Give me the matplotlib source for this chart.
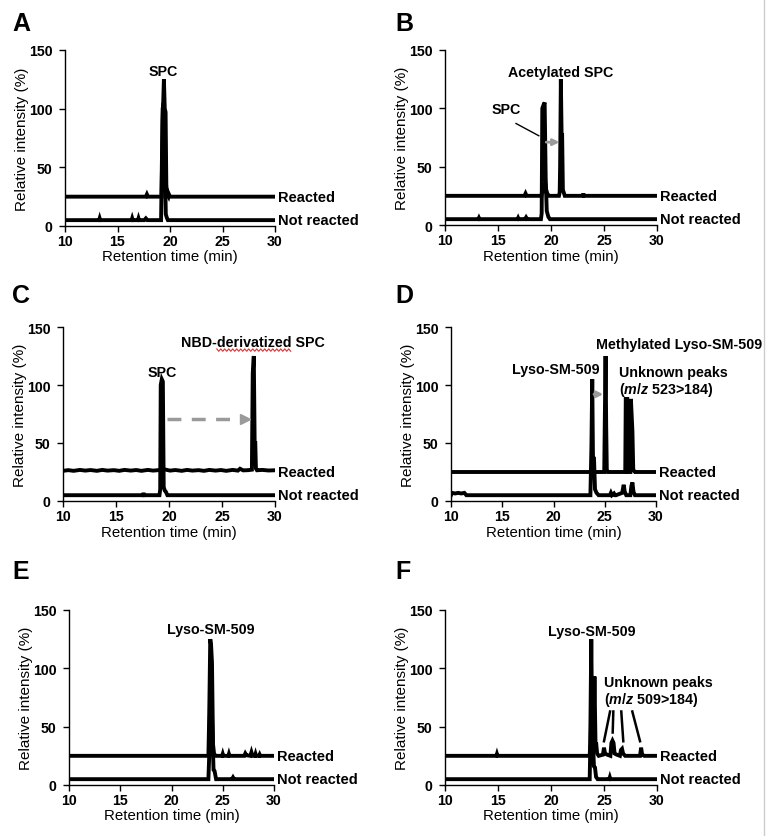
import matplotlib
matplotlib.use("Agg")
import matplotlib.pyplot as plt
from matplotlib.lines import Line2D

plt.rcParams['font.family'] = ['Liberation Sans', 'DejaVu Sans']
plt.rcParams['font.weight'] = 'bold'
plt.rcParams['mathtext.fontset'] = 'custom'
plt.rcParams['mathtext.it'] = 'Liberation Sans:bold:italic'
plt.rcParams['mathtext.rm'] = 'Liberation Sans:bold'

# ---------------- data (retention time [min], relative intensity [%]) ----------------
TRACE_LABELS = ["Reacted", "Not reacted"]
PANEL_LETTERS = ["A", "B", "C", "D", "E", "F"]
X_TICKS = [10, 15, 20, 25, 30]
Y_TICKS = [0, 50, 100, 150]

# Panel A
A_R_T = [10, 17.7, 17.8, 17.9, 19.2, 19.3, 19.42, 19.5, 19.58, 19.65, 19.72, 19.85, 19.9, 20.0, 30]
A_R_I = [25, 25, 27, 25, 25, 90, 125, 100, 97, 35, 27, 25, 27, 25, 25]
A_N_T = [10, 13.25, 13.3, 13.35, 16.35, 16.4, 16.45, 16.95, 17.0, 17.05, 17.55, 17.7, 17.85,
         19.15, 19.3, 19.4, 19.5, 19.6, 19.7, 19.8, 30]
A_N_I = [5, 5, 6.5, 5, 5, 6.5, 5, 5, 6.5, 5, 5, 6.5, 5, 5, 100, 105, 60, 10, 7, 5, 5]

# Panel B
B_R_T = [10, 17.5, 17.6, 17.7, 19.1, 19.2, 19.3, 19.45, 19.55, 19.65, 19.8, 20.75, 20.82, 20.86,
         20.93, 21.0, 21.05, 21.12, 21.2, 21.3, 23.0, 23.05, 23.1, 30]
B_R_I = [25, 25, 27, 25, 25, 31, 30, 36, 30, 27, 25, 25, 28, 50, 125, 77, 77, 30, 28, 25, 25, 27, 25, 25]
B_N_T = [10, 13.15, 13.2, 13.25, 16.85, 16.9, 16.95, 17.55, 17.65, 17.75, 19.05, 19.12, 19.18,
         19.3, 19.4, 19.5, 19.6, 19.75, 19.9, 30]
B_N_I = [5, 5, 6, 5, 5, 6, 5, 5, 6.5, 5, 5, 10, 100, 103, 105, 40, 12, 7, 5, 5]

# Panel C
C_R_T = [10, 10.5, 11.0, 11.6, 12.1, 12.6, 13.2, 13.7, 14.2, 14.8, 15.3, 15.8, 16.4, 16.9,
         17.4, 18.0, 18.5, 19.0, 19.6, 20.1, 20.6, 21.2, 21.7, 22.2, 22.8, 23.3, 23.8, 24.4,
         24.9, 25.4, 26.0, 26.5, 26.7, 27.0, 27.5, 27.82, 27.9, 28.0, 28.08, 28.14, 28.2,
         28.3, 28.8, 29.4, 30]
C_R_I = [26, 26.6, 26, 26.8, 26.2, 26.7, 26, 26.8, 26.2, 26.6, 26, 26.8, 26.2, 26.7, 26, 26.8,
         26.2, 26.6, 27.2, 26.2, 26.7, 26, 26.8, 26.2, 26.6, 26, 26.8, 26.2, 26.7, 26, 26.8,
         26.2, 27.8, 26.4, 26.6, 27, 110, 125, 50, 50, 28, 26.5, 26.8, 26.3, 26.5]
C_N_T = [10, 17.55, 17.6, 17.65, 19.1, 19.17, 19.22, 19.32, 19.42, 19.5, 19.6, 19.7, 19.85, 30]
C_N_I = [5, 5, 7, 5, 5, 10, 100, 105, 103, 12, 9, 8, 5, 5]

# Panel D
D_R_T = [10, 24.95, 25.0, 25.08, 25.14, 25.2, 25.3, 27.0, 27.05, 27.2, 27.25, 27.5, 27.55,
         27.62, 27.7, 27.78, 27.85, 27.95, 30]
D_R_I = [25, 25, 65, 125, 65, 27, 25, 25, 88, 88, 25, 25, 88, 75, 60, 27, 26, 25, 25]
D_N_T = [10, 10.1, 10.4, 10.7, 11.0, 11.3, 11.5, 23.6, 23.7, 23.78, 23.85, 23.95, 24.05, 24.2,
         24.4, 25.5, 25.6, 25.7, 25.9, 26.0, 26.1, 26.7, 26.85, 26.95, 27.1, 27.5, 27.6, 27.7,
         27.8, 27.95, 30]
D_N_I = [5, 7, 6.5, 7, 6.5, 7, 5, 5, 47, 105, 38, 37, 10, 7, 5, 5, 7, 5, 6.5, 5, 5, 7, 14, 8, 5,
         5, 13, 16, 8, 5, 5]

# Panel E
E_R_T = [10, 23.6, 23.68, 23.78, 23.86, 23.95, 24.05, 24.15, 24.3, 24.95, 25.0, 25.05, 25.55,
         25.6, 25.65, 27.1, 27.2, 27.3, 27.7, 27.8, 27.9, 28.15, 28.2, 28.25, 28.55, 28.6, 28.65, 30]
E_R_I = [25, 25, 60, 125, 120, 105, 35, 27, 25, 25, 26.5, 25, 25, 26.5, 25, 25, 27, 25.5, 25, 28,
         25, 25, 26.5, 25, 25, 26, 25, 25]
E_N_T = [10, 23.6, 23.7, 23.8, 23.95, 24.1, 24.2, 24.35, 25.9, 26.0, 26.1, 30]
E_N_I = [5, 5, 30, 105, 60, 13, 12, 5, 5, 6.5, 5, 5]

# Panel F
F_R_T = [10, 14.85, 14.9, 14.95, 23.65, 23.7, 23.8, 23.9, 24.0, 24.1, 24.2, 24.27, 24.35, 24.5,
         24.9, 25.0, 25.1, 25.3, 25.6, 25.7, 25.8, 25.9, 26.0, 26.2, 26.5, 26.6, 26.7, 26.8,
         27.0, 28.4, 28.5, 28.6, 28.8, 30]
F_R_I = [25, 25, 26.5, 25, 25, 35, 125, 35, 30, 93, 35, 35, 27, 25, 26, 32, 27, 26, 25, 36, 38,
         36, 27, 26, 25, 30, 31, 27, 25, 25, 32, 26, 25, 25]
F_N_T = [10, 23.65, 23.7, 23.8, 23.95, 24.05, 24.15, 24.25, 24.4, 25.5, 25.55, 25.6, 30]
F_N_I = [5, 5, 30, 60, 40, 16, 15, 7, 5, 5, 6.5, 5, 5]

TRACES = [
    ((A_R_T, A_R_I), (A_N_T, A_N_I)),
    ((B_R_T, B_R_I), (B_N_T, B_N_I)),
    ((C_R_T, C_R_I), (C_N_T, C_N_I)),
    ((D_R_T, D_R_I), (D_N_T, D_N_I)),
    ((E_R_T, E_R_I), (E_N_T, E_N_I)),
    ((F_R_T, F_R_I), (F_N_T, F_N_I)),
]
BASELINES = [25, 5]

# ---------------- layout ----------------
W, H = 769, 837
fig = plt.figure(figsize=(W / 100, H / 100), dpi=100)

# (left, right, top, bottom) in pixels
BOXES = [
    (65, 275, 51, 227),
    (445, 657, 51, 226),
    (63, 275, 328, 502),
    (451, 656, 328, 502),
    (69, 274, 611, 786),
    (445, 657, 611, 786),
]
LETTER_POS = [(12, 24), (395, 24), (12, 296), (395, 296), (12, 572), (395, 572)]

axes = []
for i, (l, r, t, b) in enumerate(BOXES):
    wpx, hpx = r - l, b - t
    ax = fig.add_axes([l / W, 1 - b / H, wpx / W, hpx / H])
    axes.append(ax)
    (rt, ri), (nt, ni) = TRACES[i]
    ax.plot(nt, ni, color='black', lw=2.8, solid_joinstyle='miter')
    ax.plot(rt, ri, color='black', lw=2.8, solid_joinstyle='miter')
    ax.set_xlim(10, 30)
    ax.set_ylim(0, 150)
    ax.set_xticks(X_TICKS)
    ax.set_yticks(Y_TICKS)
    for s in ['top', 'right']:
        ax.spines[s].set_visible(False)
    for s in ['left', 'bottom']:
        ax.spines[s].set_linewidth(1.0)
    ax.tick_params(direction='out', length=4, width=1, labelsize=10.2)
    ax.tick_params(axis='x', pad=2.0)
    ax.tick_params(axis='y', pad=5.0)
    ax.set_xlabel("Retention time (min)", fontsize=10.8)
    ax.set_ylabel("Relative intensity (%)", fontsize=11)
    ax.xaxis.set_label_coords(0.5, -23.5 / hpx)
    ax.yaxis.set_label_coords(-36 / wpx, 0.5)
    for lab, base in zip(TRACE_LABELS, BASELINES):
        ax.text(30.25, base, lab, fontsize=10.5, va='center', ha='left', clip_on=False)
    lx, ly = LETTER_POS[i]
    fig.text(lx / W, 1 - ly / H, PANEL_LETTERS[i], fontsize=18, fontweight='bold',
             va='center', ha='left')

# Light vertical frame line at the right edge
fig.add_artist(Line2D([764 / W, 764 / W], [0, 1], color='#cccccc', lw=1))

gray = '#9a9a9a'
fs = 10.3

# Panel A
axA = axes[0]
axA.text(19.4, 132, "SPC", fontsize=fs, ha='center', va='center')

# Panel B
axB = axes[1]
axB.text(20.95, 131, "Acetylated SPC", fontsize=fs, ha='center', va='center')
axB.text(15.75, 99, "SPC", fontsize=fs, ha='center', va='center')
axB.plot([16.7, 18.85], [87, 76.5], color='black', lw=1)
axB.annotate('', xy=(20.8, 71), xytext=(19.55, 71),
             arrowprops=dict(arrowstyle='-|>', color=gray, lw=2, mutation_scale=9,
                             shrinkA=0, shrinkB=0))

# Panel C
axC = axes[2]
axC.text(19.33, 111, "SPC", fontsize=fs, ha='center', va='center')
nbd = axC.text(27.9, 137, "NBD-derivatized SPC", fontsize=fs, ha='center', va='center',
               clip_on=False)
axC.plot([19.8, 26.9], [70.7, 70.7], color=gray, lw=2.5, dashes=(4, 3))
axC.plot([27.2], [70.7], marker='>', color=gray, markersize=7, lw=0)

# Panel D
axD = axes[3]
axD.text(24.15, 135, "Methylated Lyso-SM-509", fontsize=fs, ha='left', va='center',
         clip_on=False)
axD.text(20.25, 114, "Lyso-SM-509", fontsize=fs, ha='center', va='center')
axD.text(26.4, 111, "Unknown peaks", fontsize=fs, ha='left', va='center', clip_on=False)
axD.text(26.4, 96.5, r"($m/z$ 523>184)", fontsize=fs, ha='left', va='center', clip_on=False)
axD.annotate('', xy=(24.85, 92), xytext=(23.95, 92),
             arrowprops=dict(arrowstyle='-|>', color=gray, lw=2, mutation_scale=9,
                             shrinkA=0, shrinkB=0))

# Panel E
axE = axes[4]
axE.text(23.8, 134, "Lyso-SM-509", fontsize=fs, ha='center', va='center')

# Panel F
axF = axes[5]
axF.text(23.8, 132, "Lyso-SM-509", fontsize=fs, ha='center', va='center')
axF.text(25.0, 88, "Unknown peaks", fontsize=fs, ha='left', va='center', clip_on=False)
axF.text(25.0, 73.5, r"($m/z$ 509>184)", fontsize=fs, ha='left', va='center', clip_on=False)
for (x0, y0), (x1, y1) in [((25.57, 63), (25.0, 37.5)), ((25.88, 63), (25.82, 45)),
                           ((26.63, 63), (26.82, 37.5)), ((27.67, 63), (28.4, 37.5))]:
    axF.plot([x0, x1], [y0, y1], color='black', lw=1.8)

# Red wavy underline under "derivatized" (as in the reference)
fig.canvas.draw()
rend = fig.canvas.get_renderer()
bb = nbd.get_window_extent(rend)
tmp1 = axC.text(0, 0, "NBD-", fontsize=fs)
tmp2 = axC.text(0, 0, "NBD-derivatized", fontsize=fs)
w1 = tmp1.get_window_extent(rend).width
w2 = tmp2.get_window_extent(rend).width
tmp1.remove(); tmp2.remove()
x_start = bb.x0 + w1
x_end = bb.x0 + w2
y_line = bb.y0 - 1
xs, ys = [], []
step = 2.0
k = 0
x = x_start
while x <= x_end:
    xs.append(x)
    ys.append(y_line + (1.2 if k % 2 == 0 else -1.2))
    x += step
    k += 1
inv = fig.transFigure.inverted()
pts = inv.transform(list(zip(xs, ys)))
fig.add_artist(Line2D(pts[:, 0], pts[:, 1], color='#e03030', lw=0.8))

fig.savefig("out.png", dpi=100)
